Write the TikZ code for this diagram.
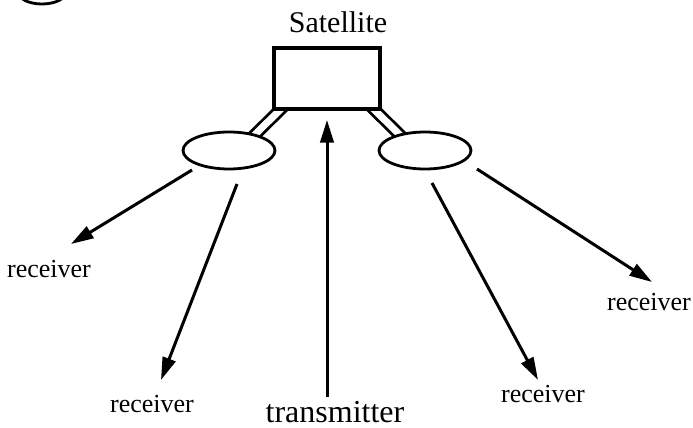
\documentclass[tikz,border=0pt]{standalone}
\usepackage{fontspec}
\setmainfont{Liberation Serif}
\usetikzlibrary{arrows.meta,shapes.geometric,backgrounds}

\begin{document}
\begin{tikzpicture}[x=0.75pt, y=-0.75pt,
  box/.style={draw, line width=2.4pt, fill=white, minimum width=79.5pt, minimum height=45.75pt, inner sep=0pt},
  dish/.style={draw, ellipse, line width=2.1pt, fill=white, minimum width=69pt, minimum height=27.75pt, inner sep=0pt},
  strut/.style={double, line width=2.1pt, double distance=5.3pt},
  sig/.style={line width=2.25pt, -{Triangle[length=17pt, width=10pt]}},
  lbl/.style={anchor=base, inner sep=0pt}]

\useasboundingbox (0,0) rectangle (693,428);

\node[box] (sat) at (327, 78.5) {};
\node[dish] (lant) at (229, 150.5) {};
\node[dish] (rant) at (425, 150.5) {};

\begin{scope}[on background layer]
\draw[strut] ([shift={(17,-10)}]sat.south west) -- ([shift={(18,-8)}]lant.center);
\draw[strut] ([shift={(-16.5,-10)}]sat.south east) -- ([shift={(-17.5,-8)}]rant.center);
\end{scope}

\node[lbl, font=\fontsize{22.5}{27}\selectfont] (name) at (338, 33) {Satellite};
\node[lbl, font=\fontsize{24}{29}\selectfont] (tx) at (335, 422) {transmitter};

\node[lbl, font=\fontsize{19.5}{23}\selectfont] (rc1) at (49, 277) {receiver};
\node[lbl, font=\fontsize{19.5}{23}\selectfont] (rc2) at (152, 412) {receiver};
\node[lbl, font=\fontsize{19.5}{23}\selectfont] (rc3) at (543, 402) {receiver};
\node[lbl, font=\fontsize{19.5}{23}\selectfont] (rc4) at (649, 310) {receiver};

% arrow ends
\coordinate (s1) at (192, 170);
\coordinate (t1) at (71, 244);
\coordinate (s2) at (237, 184);
\coordinate (t2) at (161, 380);
\coordinate (s3) at (432, 183);
\coordinate (t3) at (538, 380);
\coordinate (s4) at (477, 169);
\coordinate (t4) at (652, 282);

\draw[sig] (s1) -- (t1);
\draw[sig] (s2) -- (t2);
\draw[sig] (s3) -- (t3);
\draw[sig] (s4) -- (t4);

\draw[sig, shorten <=3pt] (tx.north -| sat.south) -- ([yshift=-7pt]sat.south);

% edge of a shape cut off at the top
\draw[line width=2.1pt] (42, -8) ellipse [x radius=18pt, y radius=9pt];

\end{tikzpicture}
\end{document}
